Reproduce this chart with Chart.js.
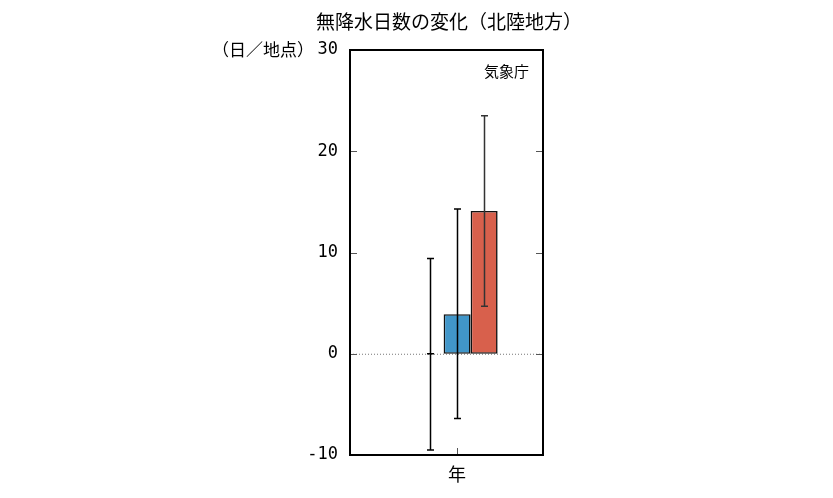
<!DOCTYPE html>
<html>
<head>
<meta charset="utf-8">
<script src="https://cdn.jsdelivr.net/npm/chart.js@4/dist/chart.umd.min.js"></script>
<style>
html,body{margin:0;padding:0;background:#fff;}
#wrap{width:833px;height:498px;position:relative;}
</style>
</head>
<body>
<div id="wrap"><canvas id="c" width="833" height="498"></canvas></div>
<script>
const categories = ['年'];
const seriesNames = ['A', 'B', 'C'];
const values = [0, 3.9, 14.1];
const errLow = [-9.5, -6.4, 4.7];
const errHigh = [9.4, 14.3, 23.5];
const yTicks = [-10, 0, 10, 20, 30];
const titleText = '無降水日数の変化（北陸地方）';
const unitText = '（日／地点）';
const sourceText = '気象庁';

const fills = ['#9a9a9a', '#4196c9', '#d8604c'];
const jp = '"Noto Sans CJK JP", sans-serif';

const frame = {
  id: 'frame',
  beforeDatasetsDraw(chart) {
    const {ctx, chartArea: a, scales: {y}} = chart;
    ctx.save();
    const y0 = y.getPixelForValue(0);
    ctx.strokeStyle = '#777';
    ctx.lineWidth = 1;
    ctx.setLineDash([1, 2]);
    ctx.beginPath();
    ctx.moveTo(a.left, y0 + 0.5);
    ctx.lineTo(a.right, y0 + 0.5);
    ctx.stroke();
    ctx.restore();
  },
  afterDatasetsDraw(chart) {
    const {ctx, chartArea: a, scales: {x, y}} = chart;
    ctx.save();
    chart.data.datasets.forEach((ds, i) => {
      const meta = chart.getDatasetMeta(i);
      meta.data.forEach((bar, j) => {
        const px = Math.round(bar.x) + 0.5;
        const lo = y.getPixelForValue(errLow[i]);
        const hi = y.getPixelForValue(errHigh[i]);
        ctx.strokeStyle = i === 2 ? '#333' : '#000';
        ctx.lineWidth = 1.5;
        ctx.beginPath();
        ctx.moveTo(px, lo); ctx.lineTo(px, hi);
        ctx.moveTo(px - 3.5, lo); ctx.lineTo(px + 3.5, lo);
        ctx.moveTo(px - 3.5, hi); ctx.lineTo(px + 3.5, hi);
        if (values[i] === 0) {
          const z = y.getPixelForValue(0);
          ctx.moveTo(px - 3.5, z); ctx.lineTo(px + 3.5, z);
        }
        ctx.stroke();
      });
    });
    ctx.strokeStyle = '#555';
    ctx.lineWidth = 1;
    yTicks.forEach(t => {
      const py = Math.round(y.getPixelForValue(t)) + 0.5;
      ctx.beginPath();
      ctx.moveTo(a.left, py); ctx.lineTo(a.left + 7, py);
      ctx.moveTo(a.right, py); ctx.lineTo(a.right - 7, py);
      ctx.stroke();
    });
    categories.forEach((c, j) => {
      const px = Math.round(x.getPixelForValue(j)) + 0.5;
      ctx.beginPath();
      ctx.moveTo(px, a.bottom); ctx.lineTo(px, a.bottom - 7);
      ctx.stroke();
    });
    ctx.strokeStyle = '#000';
    ctx.lineWidth = 2;
    ctx.strokeRect(a.left, a.top, a.right - a.left, a.bottom - a.top);
    ctx.fillStyle = '#000';
    ctx.font = '19px ' + jp;
    ctx.textAlign = 'center';
    ctx.textBaseline = 'middle';
    ctx.fillText(titleText, 449, 22);
    ctx.font = '17px ' + jp;
    ctx.textAlign = 'right';
    ctx.fillText(unitText, 314, 50);
    ctx.font = '15px ' + jp;
    ctx.fillText(sourceText, a.right - 14, 71);
    ctx.restore();
  }
};

new Chart(document.getElementById('c'), {
  type: 'bar',
  data: {
    labels: categories,
    datasets: seriesNames.map((n, i) => ({
      label: n,
      data: [values[i]],
      backgroundColor: fills[i],
      borderColor: '#111',
      borderWidth: 1.6,
      borderSkipped: false,
      categoryPercentage: 0.42,
      barPercentage: 1.0
    }))
  },
  options: {
    responsive: false,
    animation: false,
    devicePixelRatio: 1,
    layout: {padding: {left: 0, right: 290, top: 50, bottom: 0}},
    plugins: {legend: {display: false}, tooltip: {enabled: false}, title: {display: false}},
    scales: {
      x: {
        grid: {display: false},
        border: {display: false},
        afterDataLimits(s) { s.min = -0.055; s.max = -0.055; },
        afterBuildTicks(s) { s.ticks = categories.map((c, j) => ({value: j})); },
        ticks: {color: '#000', font: {family: '"Noto Sans CJK JP"', size: 18}, padding: 0},
        afterFit(s) { s.height = 43; }
      },
      y: {
        min: -10, max: 30,
        grid: {display: false},
        border: {display: false},
        afterBuildTicks(s) { s.ticks = yTicks.map(v => ({value: v})); },
        ticks: {color: '#000', font: {family: '"DejaVu Sans Mono"', size: 17, weight: '500'}, padding: 4},
        afterFit(s) { s.width = 350; }
      }
    }
  },
  plugins: [frame]
});
</script>
</body>
</html>
